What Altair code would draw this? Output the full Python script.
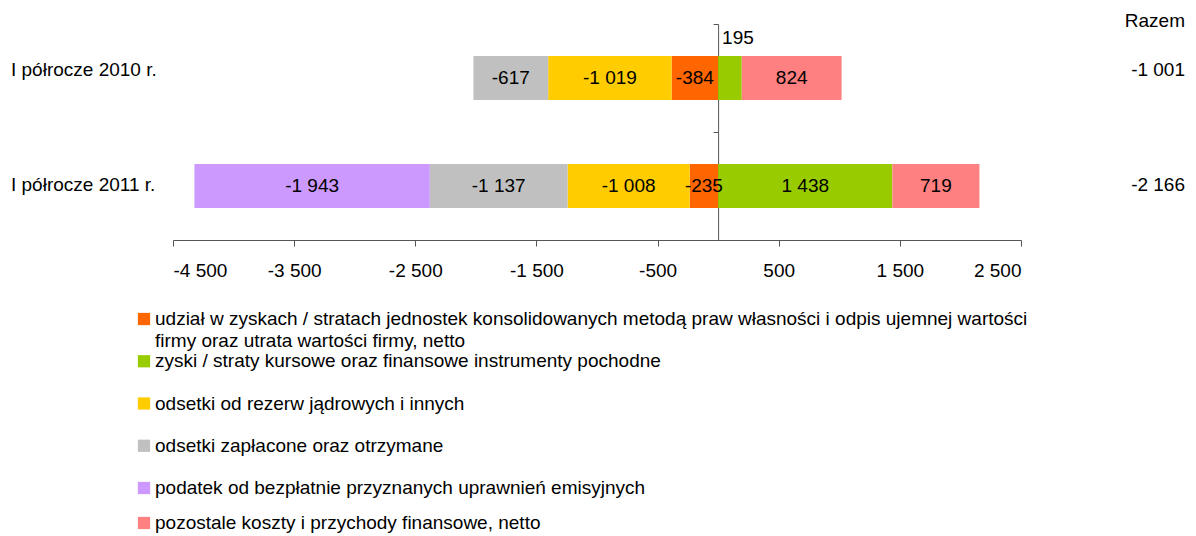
import altair as alt
import pandas as pd

periods = ["I półrocze 2010 r.", "I półrocze 2011 r."]
components = [
    "udział w zyskach / stratach jednostek konsolidowanych metodą praw własności i odpis ujemnej wartości\nfirmy oraz utrata wartości firmy, netto",
    "zyski / straty kursowe oraz finansowe instrumenty pochodne",
    "odsetki od rezerw jądrowych i innych",
    "odsetki zapłacone oraz otrzymane",
    "podatek od bezpłatnie przyznanych uprawnień emisyjnych",
    "pozostale koszty i przychody finansowe, netto",
]
colors = ["#FF6600", "#99CC00", "#FFCC00", "#C0C0C0", "#CC99FF", "#FF8080"]
values_2010 = [-384, 195, -1019, -617, 0, 824]
values_2011 = [-235, 1438, -1008, -1137, -1943, 719]
totals = [-1001, -2166]
x_ticks = [-4500, -3500, -2500, -1500, -500, 500, 1500, 2500]

FONT = "Liberation Sans"
FS = 19


def fmt(v):
    s = f"{abs(v):,}".replace(",", " ")
    return ("-" if v < 0 else "") + s


rows = []
for per, vals in zip(periods, [values_2010, values_2011]):
    neg, pos = 0, 0
    for comp, v in zip(components, vals):
        if v == 0:
            continue
        if v < 0:
            x0, x1 = neg, neg + v
            neg += v
        else:
            x0, x1 = pos, pos + v
            pos += v
        rows.append({"period": per, "comp": comp, "value": v, "x0": x0, "x1": x1,
                     "lbl": fmt(v), "small": abs(v) < 200})
df = pd.DataFrame(rows)

df_tot = pd.DataFrame({"period": periods, "total": [fmt(t) for t in totals],
                       "idx": list(range(len(periods)))})
df_leg = pd.DataFrame({"comp": components, "row": list(range(len(components)))})
df_head = pd.DataFrame({"t": ["Razem"]})
df_zero = pd.DataFrame({"v": [0, 1, 2]})

xsc = alt.Scale(domain=[-4500, 2500], nice=False, zero=False)
ysc = alt.Scale(domain=periods, paddingInner=0.5926, paddingOuter=0.2963)
csc = alt.Scale(domain=components, range=colors)

bars = alt.Chart(df).mark_bar(strokeWidth=0).encode(
    x=alt.X("x0:Q", scale=xsc, title=None,
            axis=alt.Axis(values=x_ticks, grid=False, tickSize=6, tickColor="#555555",
                          domainColor="#555555", labelFont=FONT, labelFontSize=FS,
                          labelColor="black", labelPadding=15,
                          labelExpr="(datum.value < 0 ? '-' : '') + replace(format(abs(datum.value), ','), ',', ' ')")),
    x2="x1:Q",
    y=alt.Y("period:N", scale=ysc, axis=None),
    color=alt.Color("comp:N", scale=csc, legend=None),
)

labels = alt.Chart(df).transform_filter("!datum.small").transform_calculate(
    mid="(datum.x0 + datum.x1) / 2"
).mark_text(font=FONT, fontSize=FS, color="black").encode(
    x=alt.X("mid:Q", scale=xsc),
    y=alt.Y("period:N", scale=ysc, axis=None),
    text="lbl:N",
)

small_labels = alt.Chart(df).transform_filter("datum.small").transform_calculate(
    mid="(datum.x0 + datum.x1) / 2"
).mark_text(font=FONT, fontSize=FS, color="black", dy=-40, dx=8).encode(
    x=alt.X("mid:Q", scale=xsc),
    y=alt.Y("period:N", scale=ysc, axis=None),
    text="lbl:N",
)


def side_texts(idx, dy):
    base = alt.Chart(df_tot).transform_filter(f"datum.idx == {idx}")
    left = base.mark_text(font=FONT, fontSize=FS, color="black", align="left", dy=dy).encode(
        x=alt.value(-162),
        y=alt.Y("period:N", scale=ysc, axis=None),
        text="period:N",
    )
    right = base.mark_text(font=FONT, fontSize=FS, color="black", align="right", dy=dy).encode(
        x=alt.value(1012),
        y=alt.Y("period:N", scale=ysc, axis=None),
        text="total:N",
    )
    return [left, right]


head = alt.Chart(df_head).mark_text(font=FONT, fontSize=FS, color="black", align="right").encode(
    x=alt.value(1012), y=alt.value(-3), text="t:N"
)

zero_axis = alt.Chart(df_zero).mark_point(opacity=0).encode(
    x=alt.value(0),
    y=alt.Y("v:Q", scale=alt.Scale(domain=[0, 2], nice=False),
            axis=alt.Axis(offset=-545.1, values=[0, 1, 2], labels=False, grid=False, title=None,
                          tickSize=5, tickColor="#555555", domainColor="#555555")),
)

leg_y = alt.Scale(domain=[0, 4, 5], range=[295, 464, 499])
leg_sq = alt.Chart(df_leg).mark_square(size=150, opacity=1).encode(
    x=alt.value(-29),
    y=alt.Y("row:Q", scale=leg_y, axis=None),
    color=alt.Color("comp:N", scale=csc, legend=None),
)
leg_txt = alt.Chart(df_leg).mark_text(font=FONT, fontSize=FS, color="black", align="left",
                                      baseline="middle", lineBreak="\n", lineHeight=22).encode(
    x=alt.value(-18),
    y=alt.Y("row:Q", scale=leg_y, axis=None),
    text="comp:N",
)

chart = alt.layer(
    bars, labels, small_labels, *side_texts(0, -8), *side_texts(1, -1), head, zero_axis, leg_sq, leg_txt
).resolve_scale(y="independent").properties(
    width=848, height=216,
    autosize=alt.AutoSizeParams(type="none"),
    padding={"left": 165, "top": 16, "right": 167, "bottom": 296},
).configure_view(stroke=None).configure_axis(labelFont=FONT)

chart.save("out.html", embed_options={"renderer": "svg", "actions": False})
